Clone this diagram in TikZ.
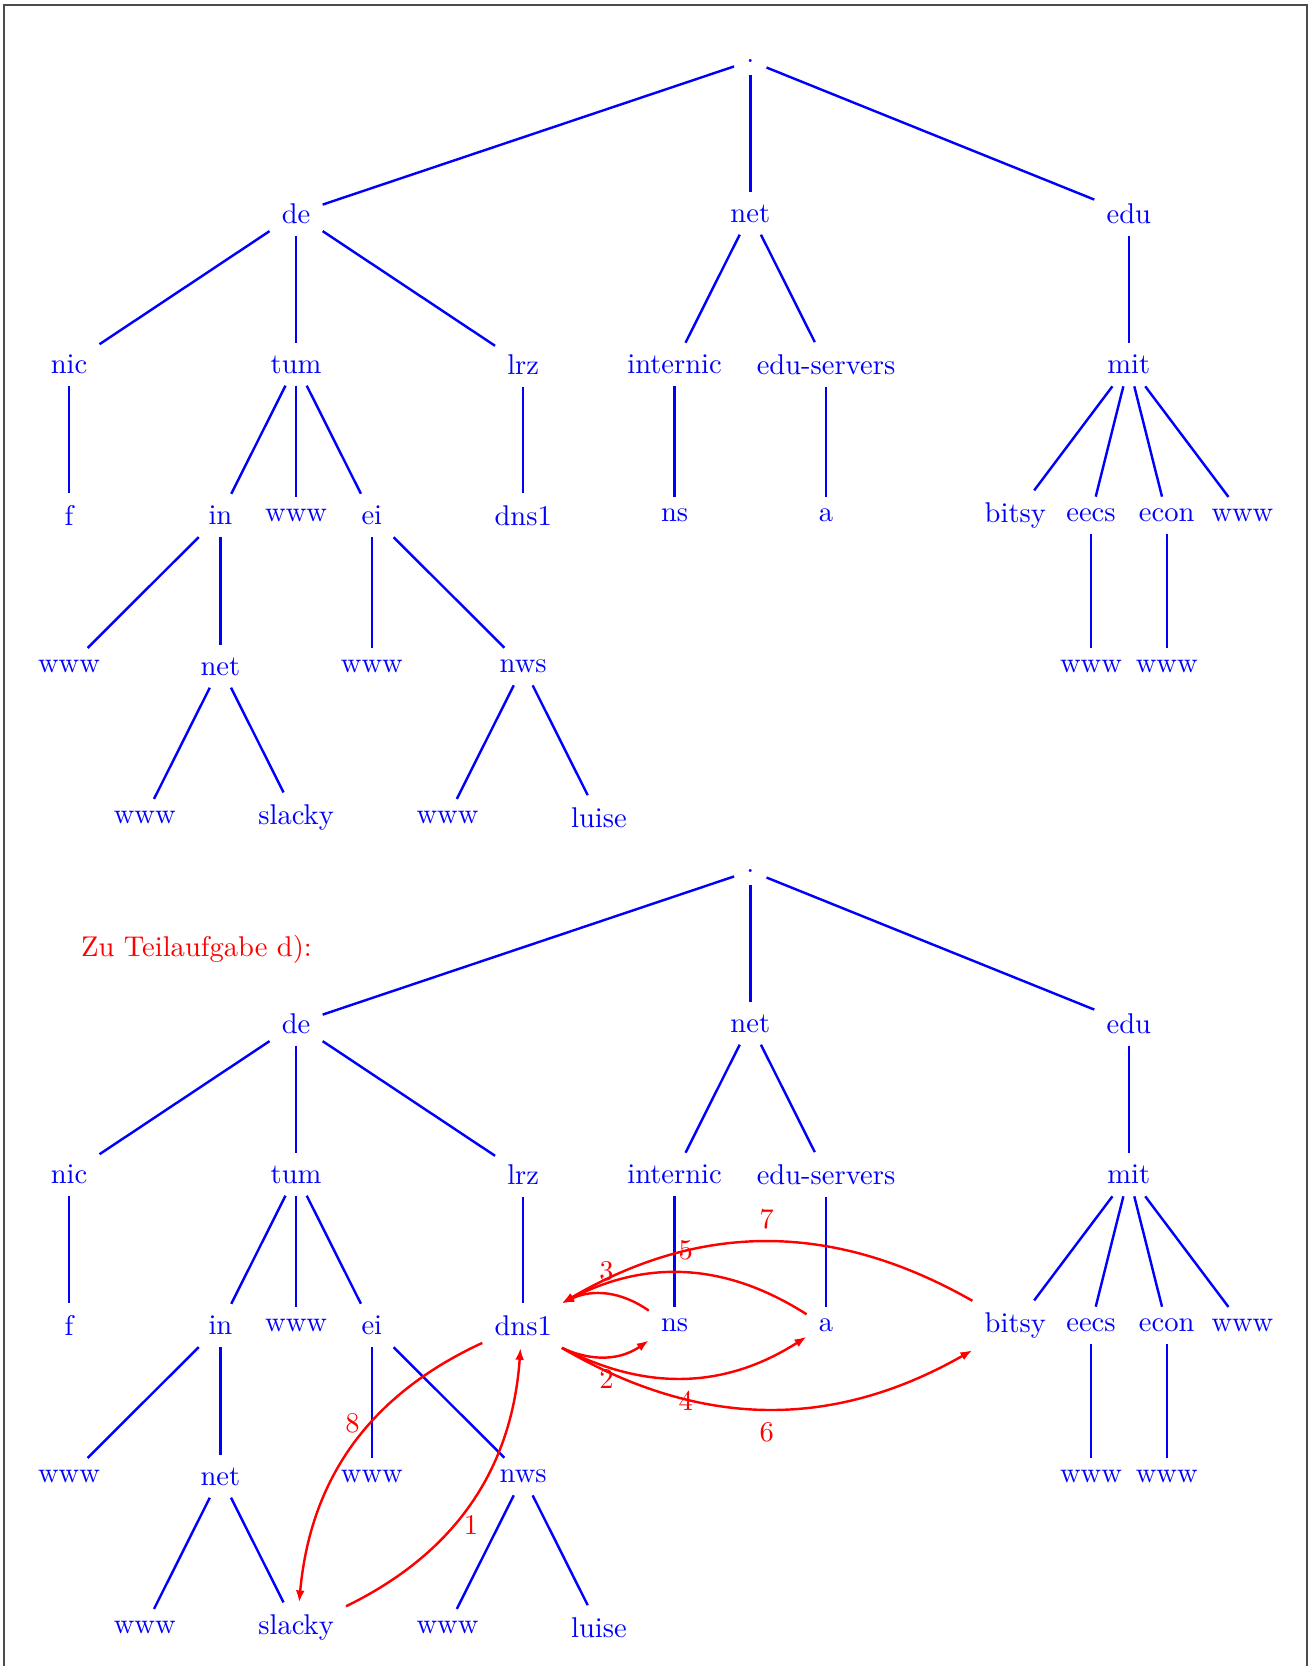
\documentclass[tikz,border=0pt]{standalone}
\usetikzlibrary{arrows.meta}
\tikzset{
  tn/.style={text=blue, inner sep=4.1pt},
  te/.style={draw=blue, line width=0.85pt},
  arr/.style={draw=red, line width=0.85pt, -{Latex[length=4.2pt,width=3.1pt]}},
  lab/.style={text=red, inner sep=4.1pt},
}
\newcommand{\dnstree}[2]{%
  \begin{scope}[shift={(0,#2)}]
    \node[tn] (#1root) at (750.3,61) {.};
    \node[tn] (#1de) at (296.1,213.5) {de};
    \node[tn] (#1net) at (750.3,213.5) {net};
    \node[tn] (#1edu) at (1128.8,213.5) {edu};
    \node[tn] (#1nic) at (69,364.5) {nic};
    \node[tn] (#1tum) at (296.1,364.5) {tum};
    \node[tn] (#1lrz) at (523.2,364.5) {lrz};
    \node[tn] (#1internic) at (674.6,364.5) {internic};
    \node[tn] (#1eduservers) at (826,364.5) {edu-servers};
    \node[tn] (#1mit) at (1128.8,364.5) {mit};
    \node[tn] (#1f) at (69,515.5) {f};
    \node[tn] (#1in) at (220.4,515.5) {in};
    \node[tn] (#1tumwww) at (296.1,515.5) {www};
    \node[tn] (#1ei) at (371.8,515.5) {ei};
    \node[tn] (#1dns1) at (523.2,515.5) {dns1};
    \node[tn] (#1ns) at (674.6,515.5) {ns};
    \node[tn] (#1a) at (826,515.5) {a};
    \node[tn] (#1bitsy) at (1015.3,515.5) {bitsy};
    \node[tn] (#1eecs) at (1091,515.5) {eecs};
    \node[tn] (#1econ) at (1166.7,515.5) {econ};
    \node[tn] (#1mitwww) at (1242.4,515.5) {www};
    \node[tn] (#1inwww) at (69,666.5) {www};
    \node[tn] (#1innet) at (220.4,666.5) {net};
    \node[tn] (#1eiwww) at (371.8,666.5) {www};
    \node[tn] (#1nws) at (523.2,666.5) {nws};
    \node[tn] (#1eecswww) at (1091,666.5) {www};
    \node[tn] (#1econwww) at (1166.7,666.5) {www};
    \node[tn] (#1netwww) at (144.7,817.5) {www};
    \node[tn] (#1slacky) at (296.1,817.5) {slacky};
    \node[tn] (#1nwswww) at (447.5,817.5) {www};
    \node[tn] (#1luise) at (598.9,817.5) {luise};
  \end{scope}
  \draw[te] (#1root) -- (#1de);
  \draw[te] (#1root) -- (#1net);
  \draw[te] (#1root) -- (#1edu);
  \draw[te] (#1de) -- (#1nic);
  \draw[te] (#1de) -- (#1tum);
  \draw[te] (#1de) -- (#1lrz);
  \draw[te] (#1net) -- (#1internic);
  \draw[te] (#1net) -- (#1eduservers);
  \draw[te] (#1edu) -- (#1mit);
  \draw[te] (#1nic) -- (#1f);
  \draw[te] (#1tum) -- (#1in);
  \draw[te] (#1tum) -- (#1tumwww);
  \draw[te] (#1tum) -- (#1ei);
  \draw[te] (#1lrz) -- (#1dns1);
  \draw[te] (#1internic) -- (#1ns);
  \draw[te] (#1eduservers) -- (#1a);
  \draw[te] (#1mit) -- (#1bitsy);
  \draw[te] (#1mit) -- (#1eecs);
  \draw[te] (#1mit) -- (#1econ);
  \draw[te] (#1mit) -- (#1mitwww);
  \draw[te] (#1in) -- (#1inwww);
  \draw[te] (#1in) -- (#1innet);
  \draw[te] (#1ei) -- (#1eiwww);
  \draw[te] (#1ei) -- (#1nws);
  \draw[te] (#1eecs) -- (#1eecswww);
  \draw[te] (#1econ) -- (#1econwww);
  \draw[te] (#1innet) -- (#1netwww);
  \draw[te] (#1innet) -- (#1slacky);
  \draw[te] (#1nws) -- (#1nwswww);
  \draw[te] (#1nws) -- (#1luise);
}
\begin{document}
\begin{tikzpicture}[x=0.012315cm, y=-0.012315cm]
  \useasboundingbox (0,0) rectangle (1314,1666);
  \draw[black!70, line width=0.4pt] (4,1680) -- (4,5) -- (1307,5) -- (1307,1680);
  \dnstree{a}{0}
  \dnstree{b}{810}
  \node[text=red, anchor=base] (zu) at (196.5,956) {Zu Teilaufgabe d):};
  \draw[arr] (bslacky) to[bend right] node[lab, below] {1} (bdns1);
  \draw[arr] (bdns1) to[bend right] node[lab, below] {2} (bns);
  \draw[arr] (bns) to[bend right] node[lab, above] {3} (bdns1);
  \draw[arr] (bdns1) to[bend right] node[lab, below] {4} (ba);
  \draw[arr] (ba) to[bend right] node[lab, above] {5} (bdns1);
  \draw[arr] (bdns1) to[bend right] node[lab, below] {6} (bbitsy);
  \draw[arr] (bbitsy) to[bend right] node[lab, above] {7} (bdns1);
  \draw[arr] (bdns1) to[bend right] node[lab, above] {8} (bslacky);
\end{tikzpicture}
\end{document}
